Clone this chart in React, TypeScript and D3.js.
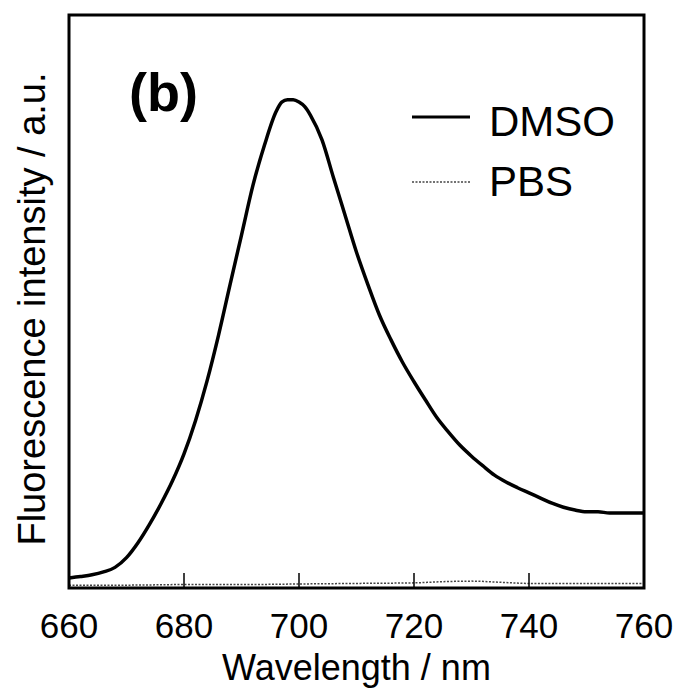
import React from "react";
import * as d3 from "d3";

// wavelength grid (nm)
const wavelengths = [
  660, 662, 664, 666, 668, 670, 672, 674, 676, 678, 680, 682, 684, 686, 688,
  690, 692, 694, 696, 697, 698, 699, 700, 701, 702, 704, 706, 708, 710, 712,
  714, 716, 718, 720, 722, 724, 726, 728, 730, 732, 734, 736, 738, 740, 742,
  744, 746, 748, 750, 752, 754, 756, 758, 760,
];

// fluorescence in DMSO (a.u.)
const dmso = [
  1.75, 2.0, 2.3, 2.8, 3.6, 5.3, 7.9, 11.1, 14.7, 18.7, 23.4, 29.2, 36.1, 44.1,
  52.9, 61.6, 70.3, 77.3, 83.1, 84.8, 85.2, 85.2, 84.8, 84.0, 82.5, 78.2, 71.6,
  65.1, 58.6, 52.9, 47.6, 43.3, 39.4, 36.0, 32.8, 29.7, 27.2, 24.9, 23.0, 21.3,
  19.7, 18.5, 17.5, 16.6, 15.7, 14.8, 14.1, 13.6, 13.3, 13.3, 13.1, 13.1, 13.1,
  13.1,
];

// fluorescence in PBS (a.u.) - almost nothing
const pbsWavelengths = [660, 670, 680, 690, 700, 710, 720, 725, 730, 735, 740, 750, 760];
const pbs = [0.5, 0.5, 0.6, 0.6, 0.7, 0.8, 0.9, 1.1, 1.2, 1.0, 0.8, 0.8, 0.8];

const xTicks = [660, 680, 700, 720, 740, 760];

const W = 678;
const H = 688;
const margin = { left: 69, right: 34, top: 15, bottom: 100 };
const font = "'Liberation Sans', Arial, Helvetica, sans-serif";

export default function App() {
  const x = d3
    .scaleLinear()
    .domain([660, 760])
    .range([margin.left, W - margin.right]);
  const y = d3
    .scaleLinear()
    .domain([0, 100])
    .range([H - margin.bottom, margin.top]);

  const line = d3
    .line<[number, number]>()
    .x((d) => x(d[0]))
    .y((d) => y(d[1]))
    .curve(d3.curveMonotoneX);

  const dmsoPath = line(wavelengths.map((w, i) => [w, dmso[i]]));
  const pbsPath = line(pbsWavelengths.map((w, i) => [w, pbs[i]]));

  const x0 = x(660);
  const x1 = x(760);
  const y0 = y(0);
  const y1 = y(100);

  return (
    <svg
      width={W}
      height={H}
      style={{ position: "absolute", left: 0, top: 0, background: "#fff" }}
      fontFamily={font}
    >
      {/* data */}
      <path d={pbsPath || ""} fill="none" stroke="#444" strokeWidth={1.5} strokeDasharray="2,1.5" />
      <path d={dmsoPath || ""} fill="none" stroke="#000" strokeWidth={3.5} strokeLinejoin="round" />

      {/* ticks along bottom, pointing inward */}
      {xTicks.slice(1, -1).map((t) => (
        <line key={t} x1={x(t)} x2={x(t)} y1={y0} y2={y0 - 15} stroke="#000" strokeWidth={1.5} />
      ))}

      {/* frame */}
      <rect x={x0} y={y1} width={x1 - x0} height={y0 - y1} fill="none" stroke="#000" strokeWidth={3} />

      {/* tick labels */}
      {xTicks.map((t) => (
        <text key={t} x={x(t)} y={y0 + 50} textAnchor="middle" fontSize={35}>
          {t}
        </text>
      ))}
      <text x={(x0 + x1) / 2} y={H - 8} textAnchor="middle" fontSize={36}>
        Wavelength / nm
      </text>
      <text
        transform={`translate(45, 309) rotate(-90)`}
        textAnchor="middle"
        fontSize={38}
      >
        Fluorescence intensity / a.u.
      </text>

      {/* panel label */}
      <text x={129} y={111} fontSize={54} fontWeight="bold">
        (b)
      </text>

      {/* legend */}
      <line x1={412} x2={470} y1={117} y2={117} stroke="#000" strokeWidth={3} />
      <text x={489} y={136} fontSize={42}>
        DMSO
      </text>
      <line x1={412} x2={470} y1={182} y2={182} stroke="#444" strokeWidth={1.5} strokeDasharray="2,1.5" />
      <text x={489} y={196} fontSize={42}>
        PBS
      </text>
    </svg>
  );
}
